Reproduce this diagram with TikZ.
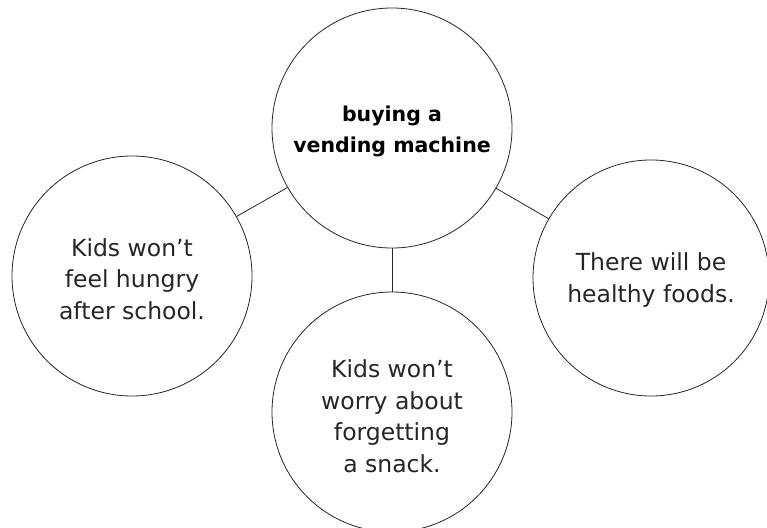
\documentclass[tikz,border=0pt]{standalone}
\usepackage{fontspec}
\setmainfont{DejaVu Sans}
\begin{document}
\begin{tikzpicture}[x=1pt,y=-1pt,
  bubble/.style={circle,draw=black!85,line width=0.8pt,minimum size=240pt,inner sep=0pt,align=center,
    font=\fontsize{23.5}{31.5}\selectfont,text=black!85},
  hub/.style={bubble,font=\fontsize{20.5}{31}\selectfont\bfseries,text=black},
  link/.style={draw=black!85,line width=0.8pt}]
\useasboundingbox (0,0) rectangle (767,527);
\node[hub] (top) at (392,128) {\rule{0pt}{22pt}buying a\\vending machine};
\node[bubble] (left) at (132,276) {\rule{0pt}{24pt}Kids won’t\\feel hungry\\after school.};
\node[bubble,minimum size=236pt] (right) at (651,278) {\rule{0pt}{22pt}There will be\\healthy foods.};
\node[bubble] (bot) at (392,412) {\rule{0pt}{26pt}Kids won’t\\worry about\\forgetting\\a snack.};
\draw[link] (top) -- (left);
\draw[link] (top) -- (right);
\draw[link] (top) -- (bot);
\end{tikzpicture}
\end{document}
